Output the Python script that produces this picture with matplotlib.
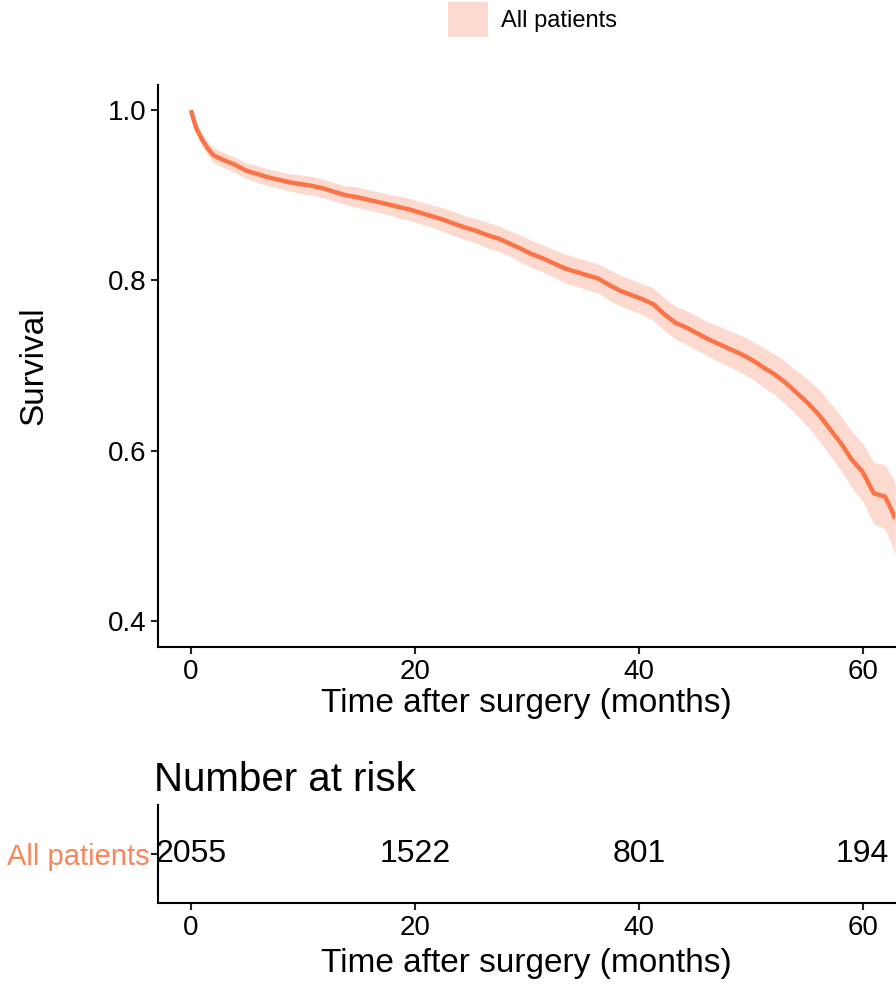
import matplotlib
matplotlib.use("Agg")
import matplotlib.pyplot as plt
from matplotlib.patches import Patch

plt.rcParams["font.family"] = ["Liberation Sans", "DejaVu Sans"]

# Kaplan-Meier estimate (months, survival)
times = [0, 0.25, 0.5, 1, 1.5, 2, 2.95, 3.9, 4.9, 5.9, 6.9, 7.9, 8.85, 9.8, 10.8, 11.8,
         12.8, 13.8, 14.7, 15.7, 16.7, 17.7, 18.6, 19.6, 20.6, 21.6, 22.6, 23.6, 24.5,
         25.5, 26.5, 27.5, 28.5, 29.5, 30.4, 31.4, 32.4, 33.4, 34.4, 35.4, 36.4, 37.3,
         38.3, 39.3, 40.3, 41.3, 42.3, 43.3, 44.2, 45.2, 46.2, 47.2, 48.2, 49.2, 50.2,
         51.1, 52.1, 53.1, 54.1, 55.1, 56.1, 57.1, 58.1, 59.0, 60.0, 61.0, 62.0, 62.6, 62.9]
surv = [1.0, 0.988, 0.978, 0.965, 0.955, 0.947, 0.941, 0.936, 0.929, 0.925, 0.921, 0.918,
        0.915, 0.913, 0.911, 0.908, 0.904, 0.900, 0.898, 0.895, 0.892, 0.889, 0.886, 0.883,
        0.879, 0.875, 0.871, 0.866, 0.862, 0.858, 0.853, 0.849, 0.843, 0.837, 0.831, 0.826,
        0.820, 0.814, 0.810, 0.806, 0.802, 0.795, 0.788, 0.783, 0.778, 0.772, 0.760, 0.750,
        0.745, 0.738, 0.731, 0.725, 0.719, 0.713, 0.706, 0.698, 0.690, 0.680, 0.668, 0.656,
        0.642, 0.625, 0.608, 0.590, 0.575, 0.550, 0.546, 0.530, 0.520]
# half width of the 95% confidence band at the same times
ci_half = [0.0, 0.003, 0.005, 0.007, 0.008, 0.009, 0.009, 0.009, 0.009, 0.010, 0.010, 0.010,
           0.010, 0.011, 0.011, 0.011, 0.011, 0.011, 0.012, 0.012, 0.012, 0.012, 0.013, 0.013,
           0.013, 0.013, 0.014, 0.014, 0.014, 0.014, 0.015, 0.015, 0.015, 0.016, 0.016, 0.016,
           0.016, 0.017, 0.017, 0.017, 0.017, 0.018, 0.018, 0.018, 0.018, 0.019, 0.019, 0.019,
           0.020, 0.020, 0.020, 0.021, 0.021, 0.022, 0.022, 0.023, 0.024, 0.025, 0.026, 0.028,
           0.030, 0.031, 0.032, 0.033, 0.034, 0.036, 0.038, 0.040, 0.042]

risk_times = [0, 20, 40, 60]
risk_counts = [2055, 1522, 801, 194]
group = "All patients"

LINE = "#FA7447"
BAND = "#FDDAD0"

lower = [s - h for s, h in zip(surv, ci_half)]
upper = [s + h for s, h in zip(surv, ci_half)]

fig = plt.figure(figsize=(8.96, 9.84), dpi=100)
ax = fig.add_axes([0.1763, 0.3425, 0.8227, 0.5711])
ax.fill_between(times, lower, upper, color=BAND, lw=0)
ax.plot(times, surv, color=LINE, lw=3.2, solid_capstyle="butt")
ax.set_xlim(-2.95, 62.9)
ax.set_ylim(0.3695, 1.0294)
ax.set_xticks([0, 20, 40, 60])
ax.set_yticks([0.4, 0.6, 0.8, 1.0])
ax.set_yticklabels(["0.4", "0.6", "0.8", "1.0"])
ax.set_xlabel("Time after surgery (months)", fontsize=24, labelpad=2)
ax.set_ylabel("Survival", fontsize=24, labelpad=42)

# number at risk table
rt = fig.add_axes([0.1763, 0.0823, 0.8227, 0.0996])
rt.set_xlim(-2.95, 62.9)
rt.set_ylim(0, 1)
for t, n in zip(risk_times, risk_counts):
    rt.text(t, 0.5, str(n), ha="center", va="center", fontsize=23)
rt.set_xticks([0, 20, 40, 60])
rt.set_yticks([0.5])
rt.set_yticklabels([group])
rt.set_xlabel("Time after surgery (months)", fontsize=24, labelpad=5)
rt.set_title("Number at risk", fontsize=29, loc="left", pad=10, x=-0.005)

for a in (ax, rt):
    for side in ("top", "right"):
        a.spines[side].set_visible(False)
    for side in ("left", "bottom"):
        a.spines[side].set_linewidth(1.5)
    a.tick_params(labelsize=20, width=1.5, length=5, color="#222222")
rt.tick_params(axis="y", pad=1, labelsize=21)
rt.get_yticklabels()[0].set_color("#F98558")

fig.legend(handles=[Patch(facecolor=BAND, edgecolor="none", label=group)],
           loc="upper center", bbox_to_anchor=(0.594, 1.012), frameon=False,
           fontsize=17, handlelength=1.7, handleheight=1.9, handletextpad=0.55,
           borderpad=0.1)

fig.savefig("out.png", dpi=100)
